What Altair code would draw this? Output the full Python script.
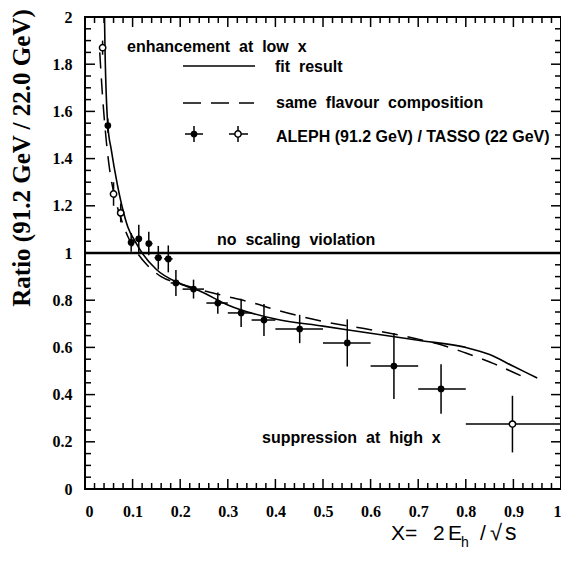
import altair as alt
import pandas as pd

W, H = 476, 472

# ---- data ----
x_vals = [0.037, 0.048, 0.060, 0.075, 0.097, 0.113, 0.134, 0.154, 0.175, 0.191,
          0.228, 0.279, 0.328, 0.376, 0.451, 0.551, 0.649, 0.748, 0.898]
y_vals = [1.87, 1.54, 1.25, 1.17, 1.045, 1.06, 1.04, 0.98, 0.975, 0.873,
          0.847, 0.788, 0.746, 0.716, 0.678, 0.619, 0.521, 0.424, 0.275]
y_err = [0.03, 0.03, 0.05, 0.04, 0.04, 0.06, 0.05, 0.05, 0.057, 0.055,
         0.04, 0.045, 0.06, 0.068, 0.06, 0.10, 0.14, 0.105, 0.12]
x_lo = [0.034, 0.045, 0.056, 0.071, 0.090, 0.106, 0.128, 0.146, 0.166, 0.180,
        0.205, 0.255, 0.300, 0.350, 0.400, 0.500, 0.600, 0.700, 0.800]
x_hi = [0.040, 0.051, 0.064, 0.079, 0.104, 0.120, 0.142, 0.162, 0.184, 0.200,
        0.250, 0.300, 0.350, 0.400, 0.500, 0.600, 0.700, 0.800, 1.000]
is_open = [True, False, True, True, False, False, False, False, False, False,
           False, False, False, False, False, False, False, False, True]

fit_x = [0.041, 0.042, 0.048, 0.055, 0.068, 0.080, 0.090, 0.105, 0.120, 0.150,
         0.200, 0.240, 0.300, 0.400, 0.500, 0.600, 0.700, 0.800, 0.850, 0.900, 0.950]
fit_y = [2.00, 1.87, 1.54, 1.44, 1.29, 1.18, 1.11, 1.05, 1.00, 0.93,
         0.87, 0.84, 0.78, 0.72, 0.69, 0.66, 0.63, 0.60, 0.57, 0.52, 0.47]

same_x = [0.031, 0.037, 0.044, 0.052, 0.060, 0.075, 0.090, 0.110, 0.130, 0.160,
          0.200, 0.250, 0.290, 0.350, 0.400, 0.500, 0.600, 0.700, 0.750, 0.800, 0.860, 0.930]
same_y = [1.85, 1.66, 1.49, 1.35, 1.26, 1.15, 1.07, 1.00, 0.95, 0.90,
          0.87, 0.84, 0.82, 0.79, 0.76, 0.71, 0.675, 0.635, 0.61, 0.576, 0.53, 0.466]

ref_level = [1.0]

x_ticks = [0, 0.1, 0.2, 0.3, 0.4, 0.5, 0.6, 0.7, 0.8, 0.9, 1]
y_ticks = [0, 0.2, 0.4, 0.6, 0.8, 1, 1.2, 1.4, 1.6, 1.8, 2]
x_minor = [round(i * 0.02, 2) for i in range(51) if i % 5]
y_minor = [round(i * 0.05, 2) for i in range(41) if i % 4]

# ---- tables ----
pts = pd.DataFrame({
    "x": x_vals, "y": y_vals,
    "ylo": [a - b for a, b in zip(y_vals, y_err)],
    "yhi": [a + b for a, b in zip(y_vals, y_err)],
    "xlo": x_lo, "xhi": x_hi, "open": is_open,
})
fit_df = pd.DataFrame({"x": fit_x, "y": fit_y})
same_df = pd.DataFrame({"x": same_x, "y": same_y})
ref_df = pd.DataFrame({"y": ref_level})
xmaj = pd.DataFrame({"xv": [float(v) for v in x_ticks]})
ymaj = pd.DataFrame({"yv": [float(v) for v in y_ticks]})
xmin = pd.DataFrame({"xv": x_minor})
ymin = pd.DataFrame({"yv": y_minor})
dummy = pd.DataFrame({"d": [0]})

xs = alt.Scale(domain=[0, 1], nice=False, zero=False)
ys = alt.Scale(domain=[0, 2], nice=False, zero=False)

SERIF = "Liberation Serif"
SANS = "Liberation Sans"

x_axis = alt.Axis(values=x_ticks, format="~g", title="", ticks=False, tickSize=0,
                  domain=False, grid=False, labelFont=SERIF, labelFontWeight="bold",
                  labelFontSize=16, labelColor="black", labelPadding=14,
                  labelFlush=True, labelOverlap=False, labelBound=False)
y_axis = alt.Axis(values=y_ticks, format="~g", title="", ticks=False, tickSize=0,
                  domain=False, grid=False, labelFont=SERIF, labelFontWeight="bold",
                  labelFontSize=16, labelColor="black", labelPadding=13,
                  labelFlush=False, labelOverlap=False, labelBound=False)


def X(f):
    return alt.X(f, scale=xs, axis=x_axis)


def Y(f):
    return alt.Y(f, scale=ys, axis=y_axis)


# ---- data layers ----
points_f = alt.Chart(pts).transform_filter("!datum.open").mark_circle(
    size=45, color="black", opacity=1).encode(x=X("x:Q"), y=Y("y:Q"))
points_o = alt.Chart(pts).transform_filter("datum.open").mark_circle(
    size=40, fill="white", stroke="black", strokeWidth=1.5, opacity=1).encode(
    x=X("x:Q"), y=Y("y:Q"))
ebar_y = alt.Chart(pts).mark_rule(color="black", strokeWidth=1.5).encode(
    x=X("x:Q"), y=Y("ylo:Q"), y2="yhi:Q")
ebar_x = alt.Chart(pts).mark_rule(color="black", strokeWidth=1.5).encode(
    x=X("xlo:Q"), x2="xhi:Q", y=Y("y:Q"))
fit_line = alt.Chart(fit_df).mark_line(
    color="black", strokeWidth=1.6, interpolate="monotone").encode(x=X("x:Q"), y=Y("y:Q"))
same_line = alt.Chart(same_df).mark_line(
    color="black", strokeWidth=1.5, strokeDash=[16, 10], interpolate="monotone").encode(
    x=X("x:Q"), y=Y("y:Q"))
ref_line = alt.Chart(ref_df).mark_rule(color="black", strokeWidth=2.6).encode(y=Y("y:Q"))


# ---- inward ticks on all four sides: tick marks centred on the frame, clipped ----
def xt(df, ypix, length):
    return alt.Chart(df).mark_tick(color="black", thickness=1.5, size=2 * length,
                                   clip=True, opacity=1).encode(
        x=X("xv:Q"), y=alt.value(ypix))


def yt(df, xpix, length):
    return alt.Chart(df).mark_tick(color="black", thickness=1.5, size=2 * length,
                                   clip=True, opacity=1).encode(
        y=Y("yv:Q"), x=alt.value(xpix))


tick_layers = [
    xt(xmaj, H, 10), xt(xmin, H, 6),
    xt(xmaj, 0, 10), xt(xmin, 0, 6),
    yt(ymaj, 0, 10), yt(ymin, 0, 6),
    yt(ymaj, W, 10), yt(ymin, W, 6),
]


# ---- annotations ----
def txt(s, x, y, size=16, font=SANS, weight="bold", align="left", baseline="middle", angle=0):
    kw = dict(text=s, font=font, fontSize=size, fontWeight=weight, align=align,
              baseline=baseline, color="black")
    if angle:
        kw["angle"] = angle
    return alt.Chart(dummy).mark_text(**kw).encode(x=alt.value(x), y=alt.value(y))


NB = "\u00a0"
texts = [
    txt(f"enhancement{NB} at{NB} low{NB} x", 42, 30),
    txt(f"fit{NB} result", 190, 50),
    txt(f"same{NB} flavour{NB} composition", 191, 86),
    txt("ALEPH (91.2 GeV) / TASSO (22 GeV)", 191, 120),
    txt(f"no{NB} scaling{NB} violation", 132, 223),
    txt(f"suppression{NB} at{NB} high{NB} x", 177, 421),
    txt("Ratio (91.2 GeV / 22.0 GeV)", -63, 141, size=25, font=SERIF,
        align="center", angle=270),
    # x-axis title: X= 2E_h / sqrt(s)
    txt("X=", 306, 523, size=21, weight="normal", baseline="alphabetic"),
    txt("2", 348, 523, size=21, weight="normal", baseline="alphabetic"),
    txt("E", 363, 523, size=21, weight="normal", baseline="alphabetic"),
    txt("h", 376, 530, size=14, weight="normal", baseline="alphabetic"),
    txt("/", 395, 523, size=21, weight="normal", baseline="alphabetic"),
    txt("\u221a", 405, 523, size=22, weight="normal", baseline="alphabetic"),
    txt("s", 420, 523, size=23, weight="normal", baseline="alphabetic"),
]


# legend samples
def hseg(x1, x2, y, dash=None, width=1.6):
    kw = dict(color="black", strokeWidth=width)
    if dash:
        kw["strokeDash"] = dash
    return alt.Chart(dummy).mark_rule(**kw).encode(
        x=alt.value(x1), x2=alt.value(x2), y=alt.value(y))


def vseg(x, y1, y2):
    return alt.Chart(dummy).mark_rule(color="black", strokeWidth=1.5).encode(
        x=alt.value(x), y=alt.value(y1), y2=alt.value(y2))


legend = [
    hseg(98, 170, 49),
    hseg(98, 169, 86, dash=[18, 10], width=1.5),
    hseg(100, 118, 117, width=1.5), vseg(109, 109, 125),
    hseg(144, 163, 117, width=1.5), vseg(153, 109, 125),
    alt.Chart(dummy).mark_circle(size=45, color="black", opacity=1).encode(
        x=alt.value(109), y=alt.value(117)),
    alt.Chart(dummy).mark_circle(size=40, fill="white", stroke="black",
                                 strokeWidth=1.5, opacity=1).encode(
        x=alt.value(153), y=alt.value(117)),
]

chart = alt.layer(
    *tick_layers, points_f, ref_line, same_line, fit_line, ebar_y, ebar_x, points_o,
    *legend, *texts,
).properties(
    width=W, height=H,
    autosize=alt.AutoSizeParams(type="none"),
    padding={"left": 77, "top": 9, "right": 0, "bottom": 66},
    background="white",
).configure_view(stroke="black", strokeWidth=2)

chart.save("out.html", embed_options={"renderer": "svg", "actions": False})
